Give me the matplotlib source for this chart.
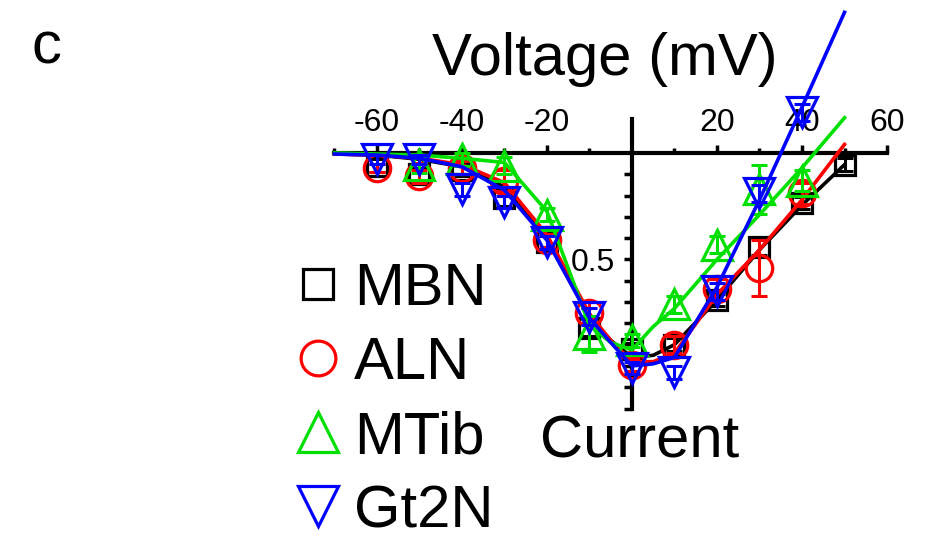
import matplotlib
matplotlib.use("Agg")
import matplotlib.pyplot as plt
from matplotlib.lines import Line2D

plt.rcParams['font.family'] = ['Liberation Sans', 'DejaVu Sans']
plt.rcParams['axes.unicode_minus'] = False

# measured points (normalized current vs. voltage)
volts = [-60, -50, -40, -30, -20, -10, 0, 10, 20, 30, 40, 50]
mbn = [-0.06, -0.10, -0.08, -0.21, -0.42, -0.82, -0.92, -0.90, -0.69, -0.44, -0.235, -0.055]
mbn_err = [0.03, 0.03, 0.03, 0.04, 0.03, 0.04, 0.03, 0.03, 0.03, 0.04, 0.03, 0.03]

aln_v = [-60, -50, -40, -30, -20, -10, 0, 10, 20, 30, 40]
aln = [-0.07, -0.11, -0.07, -0.13, -0.41, -0.75, -0.995, -0.90, -0.64, -0.54, -0.19]
aln_err = [0.02, 0.03, 0.03, 0.05, 0.03, 0.05, 0.03, 0.04, 0.05, 0.13, 0.05]

mtib_v = [-50, -40, -30, -20, -10, 0, 10, 20, 30, 40]
mtib = [-0.055, -0.03, -0.06, -0.29, -0.85, -0.88, -0.71, -0.43, -0.17, -0.13]
mtib_err = [0.04, 0.03, 0.04, 0.03, 0.085, 0.03, 0.04, 0.04, 0.115, 0.05]

gt2n_v = [-60, -50, -40, -30, -20, -10, 0, 10, 20, 30, 40]
gt2n = [-0.03, -0.03, -0.17, -0.23, -0.42, -0.77, -1.01, -1.03, -0.65, -0.19, 0.19]
gt2n_err = [0.02, 0.02, 0.03, 0.03, 0.03, 0.04, 0.03, 0.03, 0.04, 0.04, 0.04]

# fitted curves
fit_v = [-70, -60, -50, -40, -30, -20, -10, -5, 0, 5, 10, 20, 30, 40, 50]
fit_mbn = [-0.005, -0.01, -0.03, -0.065, -0.16, -0.40, -0.775, -0.88, -0.96, -0.95, -0.90, -0.69, -0.455, -0.245, -0.055]
fit_aln = [-0.005, -0.01, -0.025, -0.055, -0.14, -0.385, -0.755, -0.88, -0.98, -0.98, -0.94, -0.665, -0.455, -0.22, 0.04]
fit_mtib = [0.0, -0.005, -0.01, -0.025, -0.045, -0.275, -0.81, -0.89, -0.925, -0.815, -0.73, -0.50, -0.29, -0.07, 0.165]
fit_gt2n = [-0.005, -0.01, -0.025, -0.065, -0.175, -0.41, -0.775, -0.89, -1.0, -0.99, -0.96, -0.63, -0.22, 0.215, 0.66]

xticks_major = [-60, -40, -20, 20, 40, 60]
xticks_minor = [-70, -50, -30, -10, 10, 30, 50]
yticks = [-0.1, -0.2, -0.3, -0.4, -0.5, -0.6, -0.7, -0.8, -0.9, -1.0, -1.1, -1.2]
ytick_labels = ['', '', '', '', '0.5', '', '', '', '', '', '', '']

BLACK = '#000000'
RED = '#ff0000'
GREEN = '#00e000'
BLUE = '#0000ff'

fig = plt.figure(figsize=(9.25, 5.47), dpi=100)
ax = fig.add_axes([0, 0, 1, 1])
ax.set_xlim(-148.7, 68.94)
ax.set_ylim(-1.85, 0.718)

series = [
    (volts, mbn, mbn_err, fit_mbn, BLACK, 's', 15),
    (aln_v, aln, aln_err, fit_aln, RED, 'o', 19),
    (mtib_v, mtib, mtib_err, fit_mtib, GREEN, '^', 22),
    (gt2n_v, gt2n, gt2n_err, fit_gt2n, BLUE, 'v', 22),
]
for i, (v, y, e, fit, c, m, ms) in enumerate(series):
    ax.plot(fit_v, fit, color=c, lw=2.6, zorder=3 + i, solid_joinstyle='round')
    ax.errorbar(v, y, yerr=e, fmt='none', ecolor=c, elinewidth=2.2,
                capsize=6, capthick=2.2, zorder=3 + i)
    ax.plot(v, y, ls='none', marker=m, ms=ms, mfc='none', mec=c, mew=2.3,
            zorder=3 + i)

# axes crossing at the origin
for s in ['bottom', 'right']:
    ax.spines[s].set_visible(False)
ax.spines['top'].set_position(('data', 0))
ax.spines['top'].set_bounds(-70, 60)
ax.spines['left'].set_position(('data', 0))
ax.spines['left'].set_bounds(-1.2, 0.16)
for s in ['top', 'left']:
    ax.spines[s].set_linewidth(3)

ax.xaxis.set_ticks_position('top')
ax.set_xticks(xticks_major)
ax.set_xticks(xticks_minor, minor=True)
ax.tick_params(axis='x', which='major', direction='out', length=6, width=2.5,
               labelsize=23, pad=5)
ax.tick_params(axis='x', which='minor', direction='out', length=3.5, width=2.5)
ax.set_yticks(yticks)
ax.set_yticklabels(ytick_labels)
ax.tick_params(axis='y', direction='out', length=6, width=2.5, labelsize=23, pad=6)

fig.text(605 / 925, 1 - 75 / 547, 'Voltage (mV)', fontsize=43, ha='center', va='baseline')
fig.text(640 / 925, 1 - 457 / 547, 'Current', fontsize=43, ha='center', va='baseline')
fig.text(31 / 925, 1 - 63 / 547, 'c', fontsize=43, ha='left', va='baseline')

handles = [
    Line2D([], [], ls='none', marker='s', ms=22, mfc='none', mec=BLACK, mew=2.3),
    Line2D([], [], ls='none', marker='o', ms=25, mfc='none', mec=RED, mew=2.3),
    Line2D([], [], ls='none', marker='^', ms=29, mfc='none', mec=GREEN, mew=2.3),
    Line2D([], [], ls='none', marker='v', ms=29, mfc='none', mec=BLUE, mew=2.3),
]
ax.legend(handles, ['MBN', 'ALN', 'MTib', 'Gt2N'], loc='upper left',
          bbox_to_anchor=(300 / 925, 1 - 262 / 547), fontsize=43, frameon=False,
          handlelength=0.6, handletextpad=0.3, labelspacing=0.32, borderpad=0,
          borderaxespad=0)

fig.savefig('out.png', dpi=100)
